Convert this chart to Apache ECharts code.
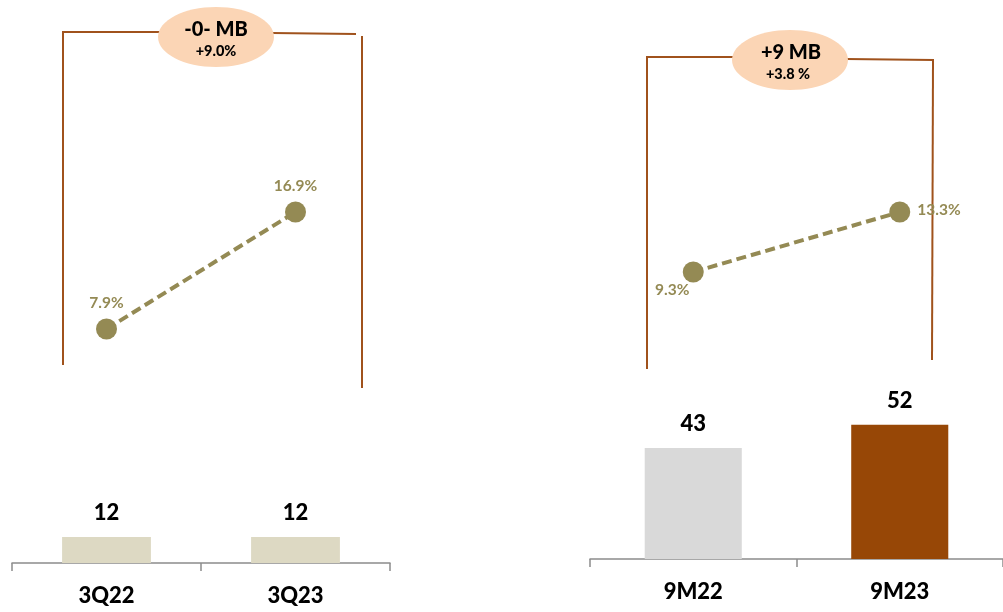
<!DOCTYPE html>
<html>
<head>
<meta charset="utf-8">
<script src="https://cdn.jsdelivr.net/npm/echarts@6/dist/echarts.min.js"></script>
<style>
html,body{margin:0;padding:0;background:#fff;}
#c{width:1003px;height:612px;}
</style>
</head>
<body>
<div id="c"></div>
<script>
// ---- data ----
var categoriesLeft = ['3Q22', '3Q23'];
var categoriesRight = ['9M22', '9M23'];
var barLeft = [12, 12];
var barRight = [43, 52];
var marginLeft = [7.9, 16.9];
var marginRight = [9.3, 13.3];
var bubbleLeft = ['-0- MB', '+9.0%'];
var bubbleRight = ['+9 MB', '+3.8 %'];

// ---- styles ----
var FONT = 'Lato, "Open Sans", sans-serif';
var OLIVE = '#948a54';
var BROWN = '#a0521c';
var leftBarColors = ['#ddd9c3', '#ddd9c3'];
var rightBarColors = ['#d9d9d9', '#974706'];

var chart = echarts.init(document.getElementById('c'), null, {renderer: 'canvas'});

function catAxis(gridIndex, data, show) {
  return {
    type: 'category', gridIndex: gridIndex, data: data,
    boundaryGap: true,
    axisLine: {show: show, lineStyle: {color: '#8c8c8c', width: 1.5}},
    axisTick: {show: show, length: 8, lineStyle: {color: '#8c8c8c', width: 1.5}},
    axisLabel: {show: show, color: '#000', fontWeight: 900, fontSize: 22, fontFamily: FONT, margin: 22},
    splitLine: {show: false}
  };
}
function valAxis(gridIndex, max) {
  return {type: 'value', gridIndex: gridIndex, min: 0, max: max, show: false, splitLine: {show: false}};
}

var option = {
  animation: false,
  backgroundColor: '#fff',
  grid: [
    {left: 12, width: 378, top: 537, height: 26},      // left bars
    {left: 590, width: 416, top: 404, height: 155},    // right bars
    {left: 12, width: 378, top: 171.7, height: 260},   // left line
    {left: 590, width: 416, top: 111.5, height: 300}   // right line
  ],
  xAxis: [
    catAxis(0, categoriesLeft, true),
    catAxis(1, categoriesRight, true),
    catAxis(2, categoriesLeft, false),
    catAxis(3, categoriesRight, false)
  ],
  yAxis: [valAxis(0, 12), valAxis(1, 60), valAxis(2, 20), valAxis(3, 20)],
  series: [
    {
      type: 'bar', xAxisIndex: 0, yAxisIndex: 0, barWidth: '47%',
      data: barLeft.map(function (v, i) { return {value: v, itemStyle: {color: leftBarColors[i]}}; }),
      label: {show: true, position: 'top', distance: 13, color: '#000', fontWeight: 900, fontSize: 22, fontFamily: FONT}
    },
    {
      type: 'bar', xAxisIndex: 1, yAxisIndex: 1, barWidth: '47%',
      data: barRight.map(function (v, i) { return {value: v, itemStyle: {color: rightBarColors[i]}}; }),
      label: {show: true, position: 'top', distance: 13, color: '#000', fontWeight: 900, fontSize: 22, fontFamily: FONT}
    },
    {
      type: 'line', xAxisIndex: 2, yAxisIndex: 2,
      data: marginLeft,
      symbol: 'circle', symbolSize: 21,
      itemStyle: {color: OLIVE},
      lineStyle: {color: OLIVE, width: 4, type: [10, 5]},
      label: {show: true, position: 'top', distance: 8, color: OLIVE, fontWeight: 'bold', fontSize: 15.5, fontFamily: FONT,
        formatter: function (p) { return p.value.toFixed(1) + '%'; }}
    },
    {
      type: 'line', xAxisIndex: 3, yAxisIndex: 3,
      data: marginRight.map(function (v, i) {
        return {value: v, label: i === 0 ? {position: 'bottom', offset: [-21, -6]} : {position: 'right', offset: [2, -2]}};
      }),
      symbol: 'circle', symbolSize: 21,
      itemStyle: {color: OLIVE},
      lineStyle: {color: OLIVE, width: 4, type: [10, 5]},
      label: {show: true, distance: 5, color: OLIVE, fontWeight: 'bold', fontSize: 15.5, fontFamily: FONT,
        formatter: function (p) { return p.value.toFixed(1) + '%'; }}
    }
  ],
  graphic: [
    // left bracket
    {type: 'polyline', shape: {points: [[63, 365], [63, 32], [160, 32]]}, style: {stroke: BROWN, lineWidth: 2, fill: null}, z: 1},
    {type: 'line', shape: {x1: 272, y1: 33, x2: 356, y2: 34}, style: {stroke: BROWN, lineWidth: 2}, z: 1},
    {type: 'line', shape: {x1: 362, y1: 36, x2: 362, y2: 388}, style: {stroke: BROWN, lineWidth: 2}, z: 1},
    {type: 'ellipse', shape: {cx: 216, cy: 37, rx: 58, ry: 30}, style: {fill: '#fbd5b5'}, z: 2},
    {type: 'text', x: 216, y: 30, z: 3, style: {text: bubbleLeft[0], align: 'center', verticalAlign: 'middle', font: '900 20px ' + FONT, fill: '#000'}},
    {type: 'text', x: 216, y: 51, z: 3, style: {text: bubbleLeft[1], align: 'center', verticalAlign: 'middle', font: '900 14.5px ' + FONT, fill: '#000'}},
    // right bracket
    {type: 'polyline', shape: {points: [[647, 369], [647, 57], [734, 57]]}, style: {stroke: BROWN, lineWidth: 2, fill: null}, z: 1},
    {type: 'line', shape: {x1: 846, y1: 59, x2: 934, y2: 60}, style: {stroke: BROWN, lineWidth: 2}, z: 1},
    {type: 'line', shape: {x1: 933, y1: 60, x2: 932, y2: 360}, style: {stroke: BROWN, lineWidth: 2}, z: 1},
    {type: 'ellipse', shape: {cx: 790, cy: 60, rx: 58, ry: 30}, style: {fill: '#fbd5b5'}, z: 2},
    {type: 'text', x: 791, y: 53, z: 3, style: {text: bubbleRight[0], align: 'center', verticalAlign: 'middle', font: '900 20px ' + FONT, fill: '#000'}},
    {type: 'text', x: 788, y: 74, z: 3, style: {text: bubbleRight[1], align: 'center', verticalAlign: 'middle', font: '900 14.5px ' + FONT, fill: '#000'}}
  ]
};
chart.setOption(option);
</script>
</body>
</html>
